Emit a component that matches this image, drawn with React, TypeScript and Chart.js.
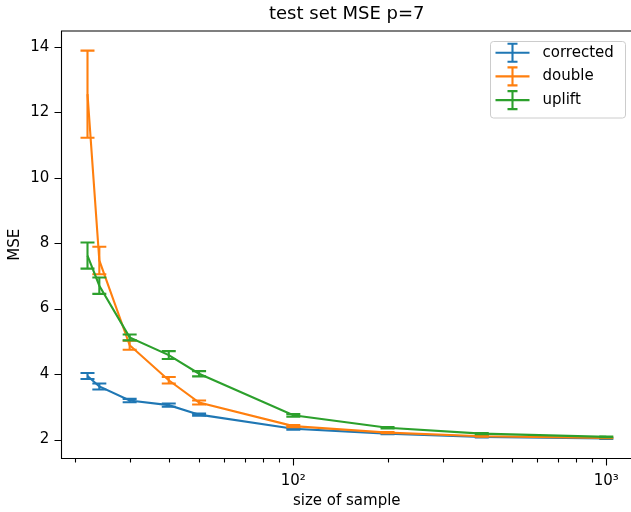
import React, { useEffect, useRef } from 'react';
import { Chart, registerables } from 'chart.js';

Chart.register(...registerables);

const sampleSizes = [22, 24, 30, 40, 50, 100, 200, 400, 1000];
const correctedMSE = [3.94, 3.62, 3.19, 3.05, 2.76, 2.33, 2.18, 2.08, 2.03];
const correctedErr = [0.09, 0.09, 0.05, 0.05, 0.03, 0.03, 0.02, 0.015, 0.01];
const doubleMSE = [12.55, 7.47, 4.88, 3.81, 3.13, 2.41, 2.21, 2.1, 2.05];
const doubleErr = [1.33, 0.42, 0.14, 0.1, 0.06, 0.03, 0.02, 0.015, 0.01];
const upliftMSE = [7.62, 6.7, 5.12, 4.58, 4.01, 2.74, 2.36, 2.18, 2.08];
const upliftErr = [0.4, 0.25, 0.09, 0.12, 0.08, 0.04, 0.02, 0.015, 0.01];
const seriesLabels = ['corrected', 'double', 'uplift'];
const seriesColors = ['#1f77b4', '#ff7f0e', '#2ca02c'];
const yTickValues = [2, 4, 6, 8, 10, 12, 14];
const xMajorTicks = [100, 1000];
const xMinorTicks = [20, 30, 40, 50, 60, 70, 80, 90, 200, 300, 400, 500, 600, 700, 800, 900];
const xTickLabels: Record<number, string> = { 100: '10²', 1000: '10³' };
const titleText = 'test set MSE p=7';

const FONT = "'DejaVu Sans', sans-serif";

const errorBarPlugin = {
  id: 'errorBars',
  afterDatasetDraw(chart: any, args: any) {
    const ds = chart.data.datasets[args.index];
    const errs: number[] = ds.errors;
    if (!errs) return;
    const xs = chart.scales.x;
    const ys = chart.scales.y;
    const ctx = chart.ctx;
    ctx.save();
    ctx.strokeStyle = ds.borderColor;
    ctx.lineWidth = 2.1;
    ds.data.forEach((p: any, i: number) => {
      const x = xs.getPixelForValue(p.x);
      const yTop = ys.getPixelForValue(p.y + errs[i]);
      const yBot = ys.getPixelForValue(p.y - errs[i]);
      ctx.beginPath();
      ctx.moveTo(x, yTop);
      ctx.lineTo(x, yBot);
      ctx.moveTo(x - 7, yTop);
      ctx.lineTo(x + 7, yTop);
      ctx.moveTo(x - 7, yBot);
      ctx.lineTo(x + 7, yBot);
      ctx.stroke();
    });
    ctx.restore();
  },
};

const framePlugin = {
  id: 'frameAndExtras',
  afterDraw(chart: any) {
    const ctx = chart.ctx;
    const a = chart.chartArea;
    const xs = chart.scales.x;
    const ys = chart.scales.y;
    ctx.save();
    // spines (right spine lies outside the visible window)
    ctx.strokeStyle = '#000';
    ctx.lineWidth = 1.1;
    ctx.beginPath();
    ctx.moveTo(a.right + 5, a.top);
    ctx.lineTo(a.left, a.top);
    ctx.lineTo(a.left, a.bottom);
    ctx.lineTo(a.right + 5, a.bottom);
    ctx.stroke();
    // ticks
    ctx.beginPath();
    xMajorTicks.forEach((v) => {
      const x = Math.round(xs.getPixelForValue(v)) + 0.5;
      ctx.moveTo(x, a.bottom);
      ctx.lineTo(x, a.bottom + 7);
    });
    xMinorTicks.forEach((v) => {
      const x = Math.round(xs.getPixelForValue(v)) + 0.5;
      ctx.moveTo(x, a.bottom);
      ctx.lineTo(x, a.bottom + 4);
    });
    yTickValues.forEach((v) => {
      const y = Math.round(ys.getPixelForValue(v)) + 0.5;
      ctx.moveTo(a.left, y);
      ctx.lineTo(a.left - 7, y);
    });
    ctx.stroke();
    // title
    ctx.fillStyle = '#000';
    ctx.font = `18px ${FONT}`;
    ctx.textAlign = 'center';
    ctx.textBaseline = 'middle';
    ctx.fillText(titleText, (a.left + a.right) / 2, 14);
    // legend
    const bw = 135;
    const bh = 76.5;
    const bx = a.right - 7 - bw;
    const by = a.top + 10;
    ctx.fillStyle = 'rgba(255,255,255,0.8)';
    ctx.strokeStyle = '#cccccc';
    ctx.lineWidth = 1;
    ctx.beginPath();
    ctx.roundRect(bx + 0.5, by + 0.5, bw, bh, 3);
    ctx.fill();
    ctx.stroke();
    chart.data.datasets.forEach((ds: any, i: number) => {
      const cy = by + 11.7 + i * 23.7;
      const hx0 = bx + 5.5;
      const hx1 = hx0 + 34;
      const hc = (hx0 + hx1) / 2;
      ctx.strokeStyle = ds.borderColor;
      ctx.lineWidth = 2.1;
      ctx.beginPath();
      ctx.moveTo(hx0, cy);
      ctx.lineTo(hx1, cy);
      ctx.moveTo(hc, cy - 9);
      ctx.lineTo(hc, cy + 9);
      ctx.moveTo(hc - 5, cy - 9);
      ctx.lineTo(hc + 5, cy - 9);
      ctx.moveTo(hc - 5, cy + 9);
      ctx.lineTo(hc + 5, cy + 9);
      ctx.stroke();
      ctx.fillStyle = '#000';
      ctx.font = `15px ${FONT}`;
      ctx.textAlign = 'left';
      ctx.textBaseline = 'middle';
      ctx.fillText(ds.label, bx + 52.5, cy);
    });
    ctx.restore();
  },
};

function makeData(vals: number[]) {
  return sampleSizes.map((x, i) => ({ x, y: vals[i] }));
}

export default function App() {
  const ref = useRef<HTMLCanvasElement | null>(null);
  useEffect(() => {
    if (!ref.current) return;
    const values = [correctedMSE, doubleMSE, upliftMSE];
    const errs = [correctedErr, doubleErr, upliftErr];
    const chart = new Chart(ref.current, {
      type: 'line',
      data: {
        datasets: seriesLabels.map((label, i) => ({
          label,
          data: makeData(values[i]),
          errors: errs[i],
          borderColor: seriesColors[i],
          backgroundColor: seriesColors[i],
          borderWidth: 2.1,
          pointRadius: 0,
          tension: 0,
          fill: false,
          order: 2 - i,
        })) as any,
      },
      options: {
        animation: false,
        responsive: false,
        devicePixelRatio: 1,
        layout: { padding: { top: 31, right: 8, left: 0, bottom: 0 } },
        plugins: {
          legend: { display: false },
          title: { display: false },
          tooltip: { enabled: false },
        },
        scales: {
          x: {
            type: 'logarithmic',
            min: 18.17,
            max: 1208,
            grid: { display: false, drawTicks: false },
            border: { display: false },
            afterBuildTicks: (scale: any) => {
              scale.ticks = [...xMinorTicks, ...xMajorTicks]
                .sort((p, q) => p - q)
                .map((v) => ({ value: v, major: xMajorTicks.includes(v) }));
            },
            afterFit: (scale: any) => {
              scale.height = 53.5;
            },
            ticks: {
              autoSkip: false,
              maxRotation: 0,
              padding: 13.5,
              color: '#000',
              font: { family: FONT, size: 15 },
              callback: (v: any) => xTickLabels[Number(v)] ?? '',
            },
            title: {
              display: true,
              text: 'size of sample',
              color: '#000',
              font: { family: FONT, size: 15 },
              padding: { top: 0, bottom: 2.2 },
            },
          },
          y: {
            type: 'linear',
            min: 1.42,
            max: 14.48,
            grid: { display: false, drawTicks: false },
            border: { display: false },
            afterBuildTicks: (scale: any) => {
              scale.ticks = yTickValues.map((v) => ({ value: v }));
            },
            afterFit: (scale: any) => {
              scale.width = 61.5;
            },
            ticks: {
              padding: 12.2,
              color: '#000',
              font: { family: FONT, size: 15 },
              callback: (v: any) => String(v),
            },
            title: {
              display: true,
              text: 'MSE',
              color: '#000',
              font: { family: FONT, size: 15 },
              padding: { top: 6, bottom: 0 },
            },
          },
        },
      } as any,
      plugins: [errorBarPlugin, framePlugin],
    });
    return () => chart.destroy();
  }, []);
  return (
    <div style={{ position: 'fixed', left: 0, top: 0, width: 631, height: 512, overflow: 'hidden', background: '#fff' }}>
      <canvas ref={ref} width={640} height={512} style={{ display: 'block', width: 640, height: 512 }} />
    </div>
  );
}
